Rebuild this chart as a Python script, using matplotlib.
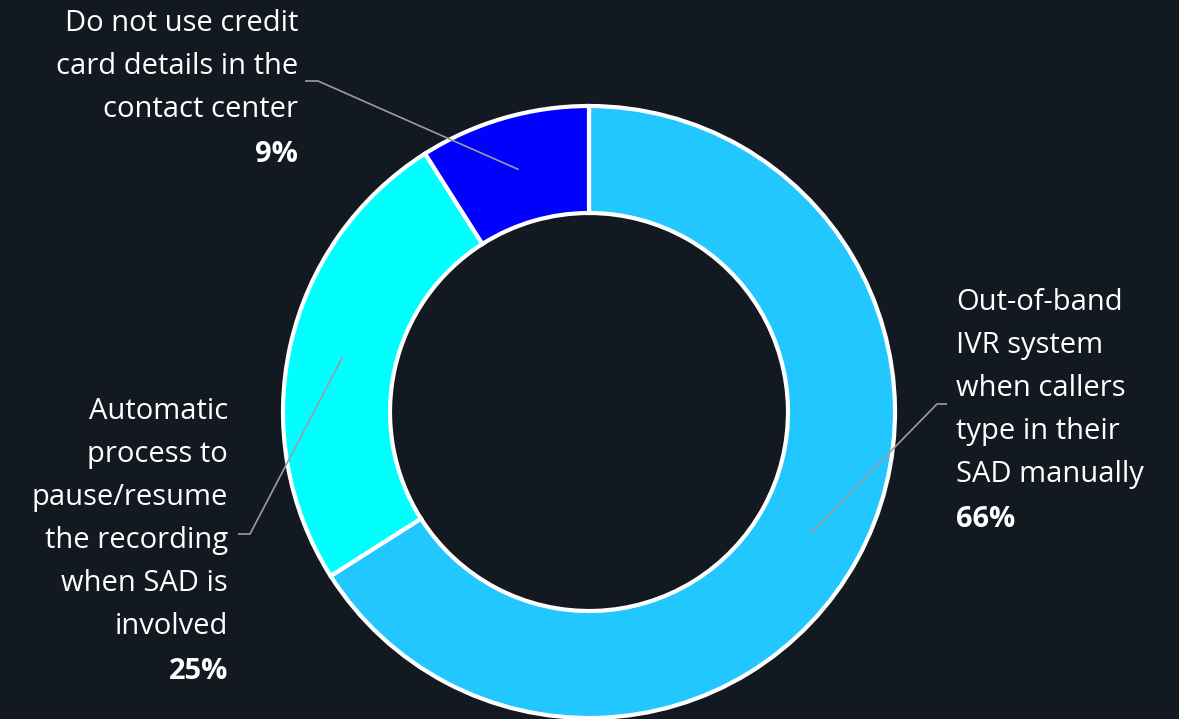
import numpy as np
import matplotlib
matplotlib.use("Agg")
import matplotlib.pyplot as plt

# Data
labels = [
    ["Out-of-band", "IVR system", "when callers", "type in their", "SAD manually"],
    ["Automatic", "process to", "pause/resume", "the recording", "when SAD is", "involved"],
    ["Do not use credit", "card details in the", "contact center"],
]
values = [66, 25, 9]
pct_labels = ["66%", "25%", "9%"]
colors = ["#22C7FF", "#00FFFF", "#0000FF"]

BG = "#121920"
W, H = 1179, 719
fig = plt.figure(figsize=(W / 100, H / 100), dpi=100, facecolor=BG)
ax = fig.add_axes([0, 0, 1, 1])
ax.set_facecolor(BG)

cx, cy = 589, H - 412
R = 306
width = 107

wedges, _ = ax.pie(values, colors=colors, startangle=90, counterclock=False,
                   center=(cx, cy), radius=R, frame=True,
                   wedgeprops=dict(width=width, edgecolor="white", linewidth=3))
ax.set_xlim(0, W)
ax.set_ylim(0, H)
ax.set_aspect("equal")
ax.axis("off")

font = "Open Sans"
fs = 21
line_gap = 43

layout = [
    dict(x=956, ha="left", top=310, elbow=(937, 404), end=(947, 404)),
    dict(x=228, ha="right", top=419, elbow=(250, 534), end=(238, 534)),
    dict(x=298, ha="right", top=31, elbow=(318, 81), end=(305, 81)),
]

for w, lines, pct, lay in zip(wedges, labels, pct_labels, layout):
    mid = np.deg2rad((w.theta1 + w.theta2) / 2)
    rm = R - width / 2
    px, py = cx + rm * np.cos(mid), cy + rm * np.sin(mid)
    ex, ey = lay["elbow"]
    nx, ny = lay["end"]
    ax.plot([px, ex, nx], [py, H - ey, H - ny], color="#9a9ea3", lw=1.2,
            solid_capstyle="butt", zorder=5)
    for i, ln in enumerate(lines):
        ax.text(lay["x"], H - (lay["top"] + i * line_gap), ln, ha=lay["ha"],
                va="baseline", color="white", fontsize=fs, family=font)
    ax.text(lay["x"], H - (lay["top"] + len(lines) * line_gap + 2), pct,
            ha=lay["ha"], va="baseline", color="white", fontsize=fs,
            family=font, fontweight="bold")

fig.savefig("out.png", dpi=100, facecolor=BG)
